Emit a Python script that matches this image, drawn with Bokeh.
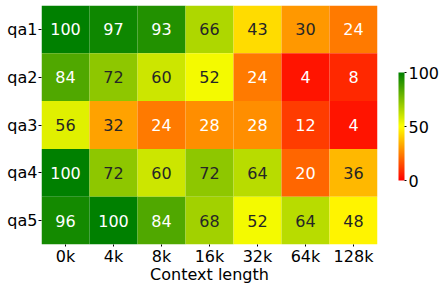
from bokeh.plotting import figure
from bokeh.models import ColumnDataSource, LinearColorMapper, ColorBar, FixedTicker, FactorRange
from bokeh.core.properties import value
from bokeh.embed import file_html
from bokeh.resources import INLINE

rows = ["qa1", "qa2", "qa3", "qa4", "qa5"]
cols = ["0k", "4k", "8k", "16k", "32k", "64k", "128k"]
scores = [
    [100, 97, 93, 66, 43, 30, 24],
    [84, 72, 60, 52, 24, 4, 8],
    [56, 32, 24, 28, 28, 12, 4],
    [100, 72, 60, 72, 64, 20, 36],
    [96, 100, 84, 68, 52, 64, 48],
]
cbar_ticks = [0, 50, 100]
x_label = "Context length"

# red -> yellow -> green colormap, 256 steps
def cmap_rgb(t):
    if t <= 0.5:
        s = t / 0.5
        return (1.0, s, 0.0)
    s = (t - 0.5) / 0.5
    return (1.0 - s, (1.0 - s) + (128 / 255) * s, 0.0)

N = 256
rgbs = [cmap_rgb(i / (N - 1)) for i in range(N)]
palette = ["#%02x%02x%02x" % tuple(int(round(c * 255)) for c in rgb) for rgb in rgbs]

def lum(rgb):
    def lin(c):
        return c / 12.92 if c <= 0.03928 else ((c + 0.055) / 1.055) ** 2.4
    r, g, b = (lin(c) for c in rgb)
    return 0.2126 * r + 0.7152 * g + 0.0722 * b

xs, ys, vals, labels, tcolors = [], [], [], [], []
for r, row in zip(rows, scores):
    for c, v in zip(cols, row):
        xs.append(c)
        ys.append(r)
        vals.append(v)
        labels.append(str(v))
        idx = min(int(v / 100 * N), N - 1)
        tcolors.append("#262626" if lum(rgbs[idx]) > 0.408 else "#ffffff")

src = ColumnDataSource(dict(x=xs, y=ys, v=vals, label=labels, tc=tcolors))
mapper = LinearColorMapper(palette=palette, low=0, high=100)

FONT = "DejaVu Sans"
p = figure(
    x_range=FactorRange(*cols),
    y_range=FactorRange(*reversed(rows)),
    frame_width=336, frame_height=239,
    output_backend="svg", toolbar_location=None,
    min_border_left=41, min_border_top=5, min_border_right=60, min_border_bottom=36,
)
p.rect(x="x", y="y", width=1, height=1, source=src,
       fill_color={"field": "v", "transform": mapper}, line_color=None)
p.text(x="x", y="y", text="label", source=src, text_color="tc",
       text_align="center", text_baseline="middle",
       text_font=value(FONT), text_font_size="16px")

p.grid.visible = False
p.outline_line_color = None
for ax in (p.xaxis, p.yaxis):
    ax.axis_line_color = None
    ax.major_tick_line_color = "black"
    ax.major_tick_in = 0
    ax.major_tick_out = 3
    ax.minor_tick_line_color = None
    ax.major_label_text_font = FONT
    ax.major_label_text_font_size = "16px"
    ax.major_label_text_color = "black"
    ax.major_label_standoff = 1
p.xaxis.major_tick_out = 2
p.xaxis.major_label_standoff = 0
p.xaxis.axis_label = x_label
p.xaxis.axis_label_text_font = FONT
p.xaxis.axis_label_text_font_size = "16px"
p.xaxis.axis_label_text_font_style = "normal"
p.xaxis.axis_label_text_color = "black"
p.xaxis.axis_label_standoff = -4

cb = ColorBar(
    color_mapper=mapper, ticker=FixedTicker(ticks=cbar_ticks),
    width=6, height=108, padding=0, margin=0,
    location=(21, 64),
    bar_line_color=None, border_line_color=None, background_fill_color=None,
    major_tick_line_color="black", major_tick_in=0, major_tick_out=2,
    minor_tick_line_color=None,
    major_label_text_font=FONT, major_label_text_font_size="16px",
    major_label_text_color="black", label_standoff=2,
)
p.add_layout(cb, "right")

open("out.html", "w").write(file_html(p, INLINE))
